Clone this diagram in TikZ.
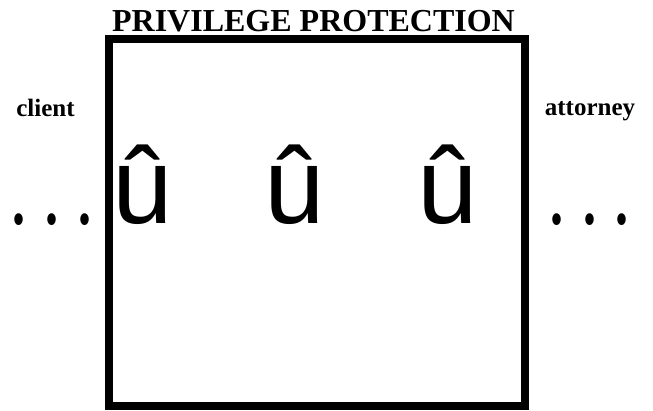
\documentclass[tikz,border=0pt]{standalone}
\usepackage{fontspec}
\setmainfont{Liberation Serif}
\newfontfamily\usans{Liberation Sans}
\begin{document}
\begin{tikzpicture}[x=1pt,y=-1pt,
  lbl/.style={inner sep=0pt,anchor=base,font=\bfseries\fontsize{25}{25}\selectfont},
  ttl/.style={inner sep=0pt,anchor=base,font=\bfseries\fontsize{32}{32}\selectfont},
  uch/.style={inner sep=0pt,anchor=base,font=\usans\fontsize{108}{108}\selectfont},
  dotn/.style={inner sep=0pt,anchor=base,yscale=1.4,font=\bfseries\fontsize{52}{52}\selectfont},
  frame/.style={draw=black,line width=8.5pt}]
\useasboundingbox (0,0) rectangle (653,410);
\node[frame,minimum width=416pt,minimum height=367pt,inner sep=0pt] (box) at (317,222.5) {};
\node[ttl] (title) at (313.5,31.5) {PRIVILEGE PROTECTION};
\node[lbl] (client) at (45.5,116) {client};
\node[lbl] (attorney) at (590,115) {attorney};
\node[uch] (u1) at (143,223) {û};
\node[uch] (u2) at (295,223) {û};
\node[uch] (u3) at (448,223) {û};
\node[dotn] (l1) at (19,224) {.};
\node[dotn] (l2) at (51.5,224) {.};
\node[dotn] (l3) at (84.5,224) {.};
\node[dotn] (r1) at (557,224) {.};
\node[dotn] (r2) at (590,224) {.};
\node[dotn] (r3) at (622,224) {.};
\end{tikzpicture}
\end{document}
